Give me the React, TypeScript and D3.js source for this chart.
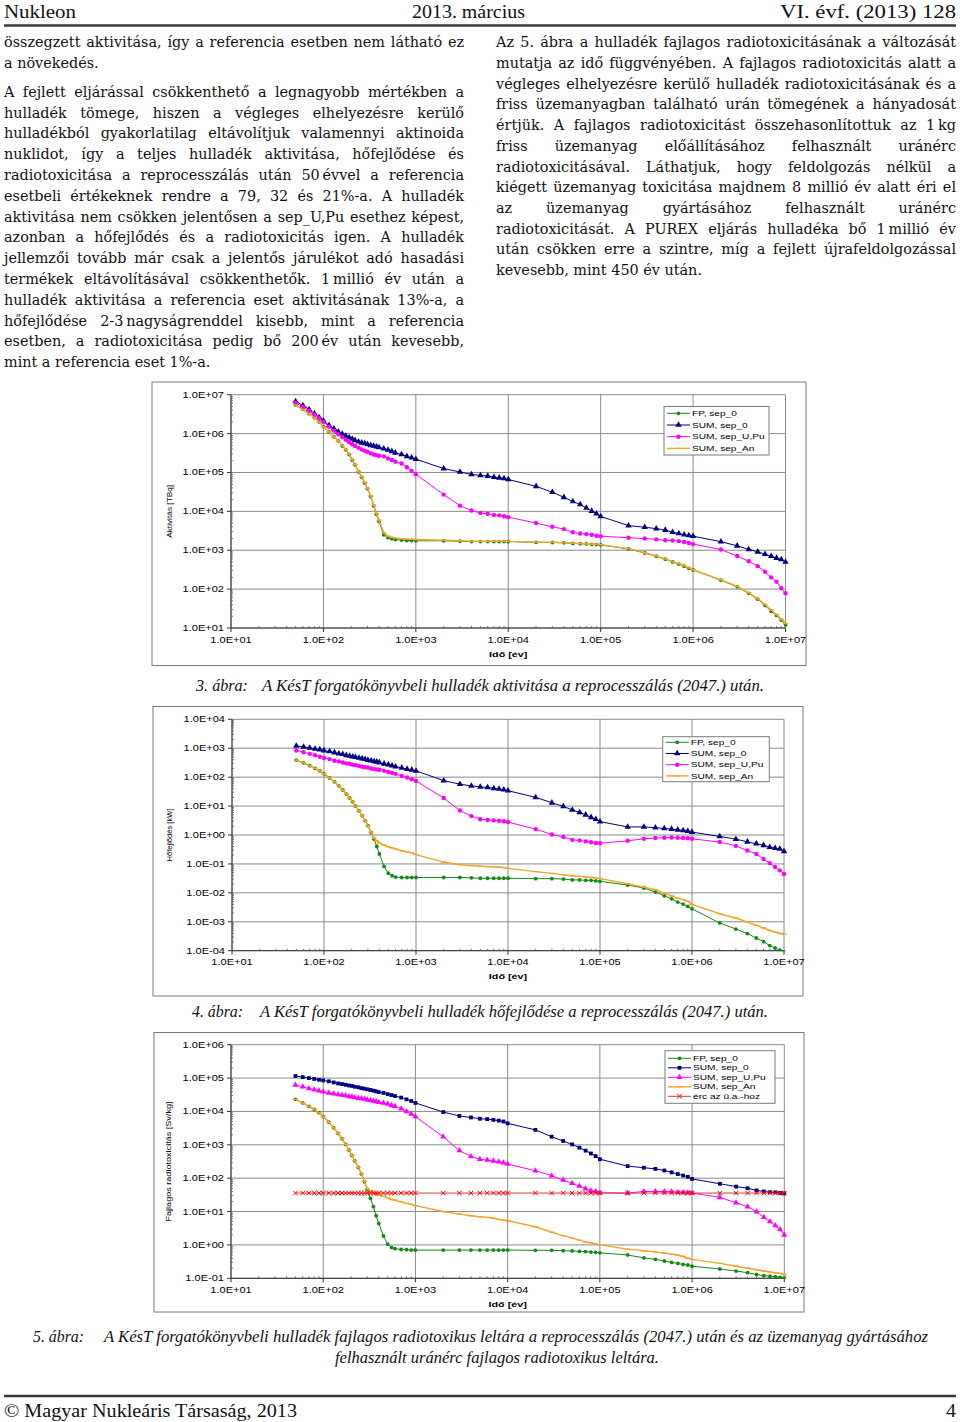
import React, { useLayoutEffect, useRef } from "react";
import * as d3 from "d3";

// ---------------- DATA ----------------
const TIMES = [
  50, 60, 70, 80, 90, 100, 115, 130, 145, 160,
  175, 190, 205, 220, 240, 260, 280, 300, 325, 350,
  375, 400, 450, 500, 550, 600, 700, 800, 900, 1000,
  2000, 3000, 4000, 5000, 6000, 7000, 8000, 9000,
  1e4, 2e4, 3e4, 4e4, 5e4, 6e4, 7e4, 8e4, 9e4,
  1e5, 2e5, 3e5, 4e5, 5e5, 6e5, 7e5, 8e5, 9e5,
  1e6, 2e6, 3e6, 4e6, 5e6, 6e6, 7e6, 8e6, 9e6,
  1e7,
];

const X_TICK_LABELS = ["1.0E+01", "1.0E+02", "1.0E+03", "1.0E+04", "1.0E+05", "1.0E+06", "1.0E+07"];
const ACT_Y_LABELS = ["1.0E+01", "1.0E+02", "1.0E+03", "1.0E+04", "1.0E+05", "1.0E+06", "1.0E+07"];
const HEAT_Y_LABELS = ["1.0E-04", "1.0E-03", "1.0E-02", "1.0E-01", "1.0E+00", "1.0E+01", "1.0E+02", "1.0E+03", "1.0E+04"];
const TOX_Y_LABELS = ["1.0E-01", "1.0E+00", "1.0E+01", "1.0E+02", "1.0E+03", "1.0E+04", "1.0E+05", "1.0E+06"];

const SERIES_NAMES = ["FP, sep_0", "SUM, sep_0", "SUM, sep_U,Pu", "SUM, sep_An", "érc az ü.a.-hoz"];

// 3. ábra – Aktivitás [TBq]
const ACT_FP = [
  5.5e6, 4.2e6, 3.25e6, 2.57e6, 1.99e6, 1.51e6, 1.1e6, 8.3e5, 6.5e5, 4.8e5,
  3.8e5, 2.9e5, 2.06e5, 1.56e5, 1.03e5, 7.5e4, 5.3e4, 3.8e4, 2.4e4, 1.38e4,
  8.4e3, 5.5e3, 2.5e3, 2.1e3, 1.96e3, 1.89e3, 1.82e3, 1.78e3, 1.78e3, 1.75e3,
  1.75e3, 1.7e3, 1.67e3, 1.67e3, 1.67e3, 1.67e3, 1.67e3, 1.67e3,
  1.67e3, 1.6e3, 1.58e3, 1.55e3, 1.5e3, 1.47e3, 1.45e3, 1.42e3, 1.4e3,
  1.37e3, 1.08e3, 850, 700, 590, 500, 440, 390, 340,
  310, 170, 115, 78, 55, 38, 27, 21, 16,
  12,
];
const ACT_SUM0 = [
  6.7e6, 5.3e6, 4.2e6, 3.3e6, 2.6e6, 2.15e6, 1.63e6, 1.34e6, 1.12e6, 9.8e5,
  8.7e5, 7.9e5, 7.3e5, 6.7e5, 6.2e5, 5.8e5, 5.6e5, 5.3e5, 5e5, 4.8e5,
  4.6e5, 4.4e5, 4.1e5, 3.8e5, 3.5e5, 3.2e5, 2.9e5, 2.6e5, 2.4e5, 2.2e5,
  1.26e5, 1.03e5, 8.9e4, 8.4e4, 8.1e4, 7.6e4, 7.3e4, 7e4,
  6.6e4, 4.4e4, 3.1e4, 2.3e4, 1.8e4, 1.5e4, 1.22e4, 1.02e4, 8.7e3,
  7.4e3, 4.3e3, 3.9e3, 3.6e3, 3.3e3, 2.9e3, 2.7e3, 2.5e3, 2.4e3,
  2.3e3, 1.66e3, 1.3e3, 1.05e3, 910, 790, 700, 630, 580,
  500,
];
const ACT_UPU = [
  6.2e6, 4.9e6, 3.9e6, 3.1e6, 2.5e6, 2.0e6, 1.5e6, 1.19e6, 9.6e5, 8e5,
  6.9e5, 6e5, 5.3e5, 4.8e5, 4.3e5, 3.9e5, 3.6e5, 3.4e5, 3.1e5, 2.9e5,
  2.8e5, 2.7e5, 2.6e5, 2.3e5, 2.1e5, 1.9e5, 1.7e5, 1.36e5, 1.1e5, 9e4,
  2.7e4, 1.4e4, 1.05e4, 9.1e3, 8.6e3, 8.1e3, 7.9e3, 7.5e3,
  7.1e3, 5e3, 4e3, 3.5e3, 2.9e3, 2.7e3, 2.6e3, 2.5e3, 2.35e3,
  2.3e3, 2.1e3, 2e3, 1.9e3, 1.8e3, 1.78e3, 1.72e3, 1.63e3, 1.53e3,
  1.44e3, 1.04e3, 710, 520, 390, 280, 200, 155, 105,
  78,
];
const ACT_AN = [
  5.4e6, 4.15e6, 3.2e6, 2.55e6, 1.98e6, 1.5e6, 1.1e6, 8.3e5, 6.5e5, 4.9e5,
  3.85e5, 2.95e5, 2.1e5, 1.6e5, 1.06e5, 7.7e4, 5.5e4, 3.9e4, 2.5e4, 1.45e4,
  8.9e3, 5.9e3, 2.8e3, 2.3e3, 2.15e3, 2.05e3, 1.98e3, 1.93e3, 1.9e3, 1.88e3,
  1.8e3, 1.75e3, 1.72e3, 1.7e3, 1.7e3, 1.7e3, 1.7e3, 1.7e3,
  1.69e3, 1.62e3, 1.6e3, 1.57e3, 1.52e3, 1.49e3, 1.47e3, 1.44e3, 1.42e3,
  1.39e3, 1.1e3, 860, 710, 600, 510, 450, 400, 350,
  315, 172, 117, 80, 57, 40, 29, 22, 17,
  13,
];

// 4. ábra – Hőfejlődés [kW]
const HEAT_FP = [
  390, 310, 250, 200, 165, 130, 94, 69, 50, 36,
  26, 19, 14, 10, 6.8, 4.6, 3.1, 2.1, 1.22, 0.72,
  0.4, 0.22, 0.082, 0.048, 0.039, 0.035, 0.034, 0.034, 0.034, 0.034,
  0.034, 0.034, 0.033, 0.032, 0.032, 0.032, 0.032, 0.032,
  0.032, 0.031, 0.031, 0.03, 0.028, 0.028, 0.027, 0.027, 0.026,
  0.025, 0.0186, 0.0147, 0.0107, 0.0079, 0.0062, 0.0048, 0.0041, 0.0034,
  0.0028, 9.1e-4, 5.6e-4, 3.9e-4, 2.75e-4, 2.05e-4, 1.5e-4, 1.24e-4, 1.05e-4,
  9e-5,
];
const HEAT_SUM0 = [
  1200, 1110, 1020, 950, 900, 830, 770, 710, 650, 620,
  570, 540, 510, 490, 460, 440, 420, 390, 370, 350,
  340, 320, 290, 270, 250, 230, 210, 190, 180, 165,
  76, 57, 50, 46, 44, 41, 39, 37,
  34, 20, 13, 9.7, 7.4, 6, 5, 4.1, 3.5,
  2.9, 1.9, 1.9, 1.8, 1.68, 1.6, 1.51, 1.44, 1.36,
  1.26, 0.89, 0.72, 0.58, 0.5, 0.44, 0.38, 0.35, 0.33,
  0.27,
];
const HEAT_UPU = [
  830, 730, 640, 570, 510, 460, 420, 370, 350, 320,
  300, 290, 270, 260, 245, 230, 220, 215, 200, 190,
  185, 180, 165, 150, 140, 130, 110, 97, 85, 74,
  19, 7, 4.5, 3.5, 3.3, 3.2, 3.1, 3.0,
  2.8, 1.6, 1.04, 0.85, 0.68, 0.65, 0.6, 0.56, 0.53,
  0.52, 0.63, 0.74, 0.79, 0.8, 0.82, 0.8, 0.79, 0.77,
  0.74, 0.57, 0.42, 0.29, 0.22, 0.147, 0.107, 0.078, 0.06,
  0.045,
];
const HEAT_AN = [
  390, 310, 250, 200, 165, 130, 94, 69, 50, 36,
  26, 19, 14, 10, 6.8, 4.6, 3.1, 2.1, 1.25, 0.78,
  0.62, 0.52, 0.45, 0.39, 0.36, 0.33, 0.285, 0.26, 0.24, 0.21,
  0.116, 0.094, 0.087, 0.083, 0.081, 0.079, 0.077, 0.075,
  0.07, 0.054, 0.047, 0.042, 0.039, 0.037, 0.035, 0.034, 0.033,
  0.031, 0.0207, 0.0158, 0.0128, 0.0098, 0.0078, 0.0066, 0.0058, 0.0051,
  0.004, 0.0019, 0.00135, 9.8e-4, 7.5e-4, 6.1e-4, 5e-4, 4.4e-4, 4e-4,
  3.7e-4,
];

// 5. ábra – Fajlagos radiotoxicitás [Sv/kg]
const TOX_FP = [
  2.3e4, 1.8e4, 1.42e4, 1.15e4, 9.2e3, 7e3, 4.8e3, 3.25e3, 2.2e3, 1.52e3,
  1.03e3, 700, 480, 330, 210, 133, 78, 46, 25, 14,
  7.5, 4.4, 1.85, 1.06, 0.84, 0.77, 0.73, 0.72, 0.7, 0.7,
  0.7, 0.7, 0.7, 0.7, 0.7, 0.7, 0.7, 0.7,
  0.7, 0.69, 0.69, 0.67, 0.66, 0.64, 0.63, 0.61, 0.6,
  0.58, 0.5, 0.41, 0.37, 0.33, 0.3, 0.28, 0.26, 0.25,
  0.23, 0.19, 0.165, 0.147, 0.13, 0.12, 0.115, 0.112, 0.107,
  0.102,
];
const TOX_SUM0 = [
  1.15e5, 1.07e5, 1e5, 9.4e4, 8.9e4, 8.5e4, 8e4, 7.4e4, 6.9e4, 6.6e4,
  6.3e4, 6e4, 5.8e4, 5.5e4, 5.3e4, 5e4, 4.8e4, 4.6e4, 4.4e4, 4.2e4,
  4e4, 3.8e4, 3.6e4, 3.3e4, 3.1e4, 2.9e4, 2.6e4, 2.3e4, 2.05e4, 1.8e4,
  9.6e3, 7.3e3, 6.6e3, 6.05e3, 5.9e3, 5.6e3, 5.3e3, 5e3,
  4.4e3, 2.8e3, 1.75e3, 1.3e3, 1.03e3, 820, 670, 550, 460,
  370, 230, 206, 190, 170, 150, 133, 120, 110,
  95, 68, 56, 50, 43, 40, 38, 37.5, 36,
  35,
];
const TOX_UPU = [
  6.2e4, 5.5e4, 4.9e4, 4.5e4, 4.2e4, 3.9e4, 3.6e4, 3.4e4, 3.2e4, 3.1e4,
  3e4, 2.8e4, 2.76e4, 2.6e4, 2.5e4, 2.46e4, 2.35e4, 2.25e4, 2.15e4, 2.05e4,
  2e4, 1.9e4, 1.8e4, 1.67e4, 1.52e4, 1.42e4, 1.2e4, 1e4, 8.4e3, 7e3,
  1.75e3, 670, 450, 370, 350, 330, 310, 290,
  265, 167, 119, 88, 70, 58, 48, 42, 40,
  36.6, 35.8, 40, 40, 40, 39, 38, 37.5, 36.6,
  35.8, 26.6, 18.4, 14, 9.9, 6.7, 5, 3.85, 2.9,
  2.0,
];
const TOX_AN = [
  2.3e4, 1.8e4, 1.42e4, 1.15e4, 9.2e3, 7e3, 4.8e3, 3.25e3, 2.2e3, 1.52e3,
  1.03e3, 700, 480, 330, 210, 135, 80, 48, 42, 37,
  33, 31, 28.5, 26, 23, 22, 19.5, 17.6, 16.5, 15,
  10, 8.4, 7.5, 7.0, 6.7, 6.3, 5.8, 5.5,
  5.3, 3.5, 2.4, 1.9, 1.6, 1.4, 1.24, 1.15, 1.07,
  1.0, 0.75, 0.67, 0.62, 0.57, 0.53, 0.49, 0.45, 0.4,
  0.37, 0.28, 0.23, 0.2, 0.18, 0.165, 0.155, 0.145, 0.14,
  0.13,
];
const TOX_ORE = [
  35.8, 35.8, 35.8, 35.8, 35.8, 35.8, 35.8, 35.8, 35.8, 35.8,
  35.8, 35.8, 35.8, 35.8, 35.8, 35.8, 35.8, 35.8, 35.8, 35.8,
  35.8, 35.8, 35.8, 35.8, 35.8, 35.8, 35.8, 35.8, 35.8, 35.8,
  35.8, 35.8, 35.8, 35.8, 35.8, 35.8, 35.8, 35.8,
  35.8, 35.8, 35.8, 35.8, 35.8, 35.8, 35.8, 35.8, 35.8,
  35.8, 35.8, 35.8, 35.8, 35.8, 35.8, 35.8, 35.8, 35.8,
  35.8, 35.8, 35.8, 35.8, 35.8, 35.8, 35.8, 35.8, 35.8,
  35.8,
];

// ---------------- TEXT ----------------
const LEFT_P1 = [
  "összegzett aktivitása, így a referencia esetben nem látható ez",
  "a növekedés.",
];
const LEFT_P2 = [
  "A fejlett eljárással csökkenthető a legnagyobb mértékben a",
  "hulladék tömege, hiszen a végleges elhelyezésre kerülő",
  "hulladékból gyakorlatilag eltávolítjuk valamennyi aktinoida",
  "nuklidot, így a teljes hulladék aktivitása, hőfejlődése és",
  "radiotoxicitása a reprocesszálás után 50\u2009évvel a referencia",
  "esetbeli értékeknek rendre a 79, 32 és 21%-a. A hulladék",
  "aktivitása nem csökken jelentősen a sep_U,Pu esethez képest,",
  "azonban a hőfejlődés és a radiotoxicitás igen. A hulladék",
  "jellemzői tovább már csak a jelentős járulékot adó hasadási",
  "termékek eltávolításával csökkenthetők. 1\u2009millió év után a",
  "hulladék aktivitása a referencia eset aktivitásának 13%-a, a",
  "hőfejlődése 2-3\u2009nagyságrenddel kisebb, mint a referencia",
  "esetben, a radiotoxicitása pedig bő 200\u2009év után kevesebb,",
  "mint a referencia eset 1%-a.",
];
const RIGHT_P = [
  "Az 5. ábra a hulladék fajlagos radiotoxicitásának a változását",
  "mutatja az idő függvényében. A fajlagos radiotoxicitás alatt a",
  "végleges elhelyezésre kerülő hulladék radiotoxicitásának és a",
  "friss üzemanyagban található urán tömegének a hányadosát",
  "értjük. A fajlagos radiotoxicitást összehasonlítottuk az 1\u2009kg",
  "friss üzemanyag előállításához felhasznált uránérc",
  "radiotoxicitásával. Láthatjuk, hogy feldolgozás nélkül a",
  "kiégett üzemanyag toxicitása majdnem 8 millió év alatt éri el",
  "az üzemanyag gyártásához felhasznált uránérc",
  "radiotoxicitását. A PUREX eljárás hulladéka bő 1\u2009millió év",
  "után csökken erre a szintre, míg a fejlett újrafeldolgozással",
  "kevesebb, mint 450 év után.",
];

const SERIF = "'DejaVu Serif', 'Liberation Serif', serif";
const TIMESF = "'Liberation Serif', 'Times New Roman', serif";
const SANS = "'Liberation Sans', Arial, sans-serif";

// justified line of body text
function JLine({ x, y, w, text, justify }: { x: number; y: number; w: number; text: string; justify: boolean }) {
  const ref = useRef<SVGTextElement>(null);
  useLayoutEffect(() => {
    const el = ref.current;
    if (!el) return;
    el.style.wordSpacing = "0px";
    el.removeAttribute("textLength");
    const len = el.getComputedTextLength();
    const spaces = (text.match(/ /g) || []).length;
    if (justify && spaces > 0) {
      el.style.wordSpacing = `${(w - len) / spaces}px`;
    } else if (len > w) {
      el.setAttribute("textLength", String(w));
      el.setAttribute("lengthAdjust", "spacingAndGlyphs");
    }
  }, [text, w, justify]);
  return (
    <text ref={ref} x={x} y={y} fontFamily={SERIF} fontSize={14.4} fill="#111" style={{ whiteSpace: "pre" }}>
      {text}
    </text>
  );
}

// fitted text (fixed width)
function FText({ x, y, w, text, size, italic, anchor }: { x: number; y: number; w: number; text: string; size: number; italic?: boolean; anchor?: string }) {
  return (
    <text x={x} y={y} fontFamily={TIMESF} fontSize={size} fontStyle={italic ? "italic" : "normal"} textLength={w}
      lengthAdjust="spacingAndGlyphs" textAnchor={anchor || "start"} fill="#111">
      {text}
    </text>
  );
}

// scaled sans text (chart labels)
function ST({ x, y, children, sx = 1.3, size = 8.5, anchor = "start", weight = "normal" }: any) {
  return (
    <text transform={`translate(${x},${y}) scale(${sx},1)`} textAnchor={anchor} fontSize={size} fontWeight={weight}
      fontFamily={SANS} fill="#000">
      {children}
    </text>
  );
}

type MarkerKind = "circle" | "triangle" | "square" | "dash" | "x";
interface SeriesCfg { name: string; values: number[]; line: string; lw: number; marker: MarkerKind; mcolor: string; msize: number; }
interface ChartCfg {
  id: string;
  frame: [number, number, number, number];
  plot: { l: number; r: number; t: number; b: number };
  yLabels: string[];
  yTitle: string;
  yTitleX: number;
  yTitleLen: number;
  series: SeriesCfg[];
  legend: { x: number; y: number; w: number; h: number; row0: number; dy: number };
}

function markerEl(kind: MarkerKind, cx: number, cy: number, color: string, size: number, key: string) {
  switch (kind) {
    case "circle":
      return <circle key={key} cx={cx} cy={cy} r={size} fill={color} />;
    case "triangle":
      return <path key={key} d={d3.symbol(d3.symbolTriangle, size)() as string} transform={`translate(${cx},${cy})`} fill={color} />;
    case "square":
      return <rect key={key} x={cx - size / 2} y={cy - size / 2} width={size} height={size} fill={color} />;
    case "dash":
      return <line key={key} x1={cx - 2.6} x2={cx + 2.6} y1={cy} y2={cy} stroke={color} strokeWidth={1.3} />;
    case "x":
      return (
        <path key={key} d={`M${cx - 2.3},${cy - 2.3}L${cx + 2.3},${cy + 2.3}M${cx - 2.3},${cy + 2.3}L${cx + 2.3},${cy - 2.3}`}
          stroke={color} strokeWidth={1} fill="none" />
      );
  }
}

function Chart({ cfg }: { cfg: ChartCfg }) {
  const { frame, plot, yLabels, series, legend } = cfg;
  const xTicks = X_TICK_LABELS.map(Number);
  const yTicks = yLabels.map(Number);
  const x = d3.scaleLog().domain([xTicks[0], xTicks[xTicks.length - 1]]).range([plot.l, plot.r]);
  const y = d3.scaleLog().domain([yTicks[0], yTicks[yTicks.length - 1]]).range([plot.b, plot.t]);
  const minor = (ticks: number[]) => {
    const out: number[] = [];
    for (let i = 0; i < ticks.length - 1; i++) for (let k = 2; k <= 9; k++) out.push(ticks[i] * k);
    return out;
  };
  const line = d3.line<number>().x((_, i) => x(TIMES[i])).y((v) => y(v));
  const grid = "#8a8a8a";
  const clipId = `clip-${cfg.id}`;
  return (
    <g>
      <rect x={frame[0]} y={frame[1]} width={frame[2] - frame[0]} height={frame[3] - frame[1]} fill="#fff" stroke="#7a7a7a" strokeWidth={1} />
      <defs>
        <clipPath id={clipId}>
          <rect x={plot.l - 6} y={plot.t - 6} width={plot.r - plot.l + 12} height={plot.b - plot.t + 6.5} />
        </clipPath>
      </defs>
      {yTicks.map((v, i) => (
        <line key={`gy${i}`} x1={plot.l} x2={plot.r} y1={y(v)} y2={y(v)} stroke={grid} strokeWidth={1} />
      ))}
      {xTicks.map((v, i) => (
        <line key={`gx${i}`} x1={x(v)} x2={x(v)} y1={plot.t} y2={plot.b} stroke={grid} strokeWidth={1} />
      ))}
      <line x1={plot.l} x2={plot.l} y1={plot.t} y2={plot.b} stroke="#333" strokeWidth={1} />
      <line x1={plot.l} x2={plot.r} y1={plot.b} y2={plot.b} stroke="#333" strokeWidth={1} />
      {yTicks.map((v, i) => (
        <line key={`ty${i}`} x1={plot.l - 4} x2={plot.l} y1={y(v)} y2={y(v)} stroke="#333" />
      ))}
      {xTicks.map((v, i) => (
        <line key={`tx${i}`} x1={x(v)} x2={x(v)} y1={plot.b} y2={plot.b + 4} stroke="#333" />
      ))}
      {minor(yTicks).map((v, i) => (
        <line key={`my${i}`} x1={plot.l} x2={plot.l + 2} y1={y(v)} y2={y(v)} stroke="#555" strokeWidth={0.8} />
      ))}
      {minor(xTicks).map((v, i) => (
        <line key={`mx${i}`} x1={x(v)} x2={x(v)} y1={plot.b} y2={plot.b - 2} stroke="#555" strokeWidth={0.8} />
      ))}
      {yLabels.map((lab, i) => (
        <ST key={`ly${i}`} x={plot.l - 7} y={y(yTicks[i]) + 3} anchor="end">{lab}</ST>
      ))}
      {X_TICK_LABELS.map((lab, i) => (
        <ST key={`lx${i}`} x={x(xTicks[i])} y={plot.b + 14.5} anchor="middle">{lab}</ST>
      ))}
      <ST x={(plot.l + plot.r) / 2} y={plot.b + 28.5} anchor="middle" weight="bold" sx={1.35} size={8}>Idő [év]</ST>
      <text transform={`translate(${cfg.yTitleX},${(plot.t + plot.b) / 2}) rotate(-90)`} textAnchor="middle"
        fontFamily={SANS} fontSize={7.5} textLength={cfg.yTitleLen} lengthAdjust="spacingAndGlyphs" fill="#000">
        {cfg.yTitle}
      </text>
      <g clipPath={`url(#${clipId})`}>
        {series.map((s, si) => (
          <g key={`s${si}`}>
            <path d={line(s.values) as string} fill="none" stroke={s.line} strokeWidth={s.lw} />
            {s.values.map((v, i) => markerEl(s.marker, x(TIMES[i]), y(v), s.mcolor, s.msize, `m${si}-${i}`))}
          </g>
        ))}
      </g>
      <rect x={legend.x} y={legend.y} width={legend.w} height={legend.h} fill="#fff" stroke="#7a7a7a" strokeWidth={1} />
      {series.map((s, si) => {
        const ry = legend.row0 + si * legend.dy;
        const x0 = legend.x + 3, x1 = legend.x + 26;
        return (
          <g key={`lg${si}`}>
            <line x1={x0} x2={x1} y1={ry} y2={ry} stroke={s.line} strokeWidth={s.lw} />
            {markerEl(s.marker, (x0 + x1) / 2, ry, s.mcolor, s.msize, `lm${si}`)}
            <ST x={legend.x + 28} y={ry + 2.6} size={7} sx={1.45}>{s.name}</ST>
          </g>
        );
      })}
    </g>
  );
}

const GREEN = "#138a13";
const NAVY = "#000080";
const MAGENTA = "#ff00ff";
const ORANGE = "#f4a428";

const CHART_ACT: ChartCfg = {
  id: "act",
  frame: [152, 382, 806, 665.5],
  plot: { l: 231, r: 785.5, t: 394.7, b: 628 },
  yLabels: ACT_Y_LABELS,
  yTitle: "Aktivitás [TBq]",
  yTitleX: 172,
  yTitleLen: 53,
  series: [
    { name: SERIES_NAMES[0], values: ACT_FP, line: GREEN, lw: 1, marker: "circle", mcolor: GREEN, msize: 1.9 },
    { name: SERIES_NAMES[1], values: ACT_SUM0, line: NAVY, lw: 1, marker: "triangle", mcolor: NAVY, msize: 18 },
    { name: SERIES_NAMES[2], values: ACT_UPU, line: MAGENTA, lw: 1, marker: "circle", mcolor: MAGENTA, msize: 2.2 },
    { name: SERIES_NAMES[3], values: ACT_AN, line: ORANGE, lw: 1.4, marker: "dash", mcolor: ORANGE, msize: 1 },
  ],
  legend: { x: 664, y: 406.5, w: 105, h: 48.5, row0: 413.3, dy: 11.7 },
};

const CHART_HEAT: ChartCfg = {
  id: "heat",
  frame: [153, 706.5, 803, 996],
  plot: { l: 232, r: 784, t: 719.3, b: 950.7 },
  yLabels: HEAT_Y_LABELS,
  yTitle: "Hőfejlődés [kW]",
  yTitleX: 172,
  yTitleLen: 53,
  series: [
    { name: SERIES_NAMES[0], values: HEAT_FP, line: GREEN, lw: 1, marker: "circle", mcolor: GREEN, msize: 1.9 },
    { name: SERIES_NAMES[1], values: HEAT_SUM0, line: NAVY, lw: 1, marker: "triangle", mcolor: NAVY, msize: 18 },
    { name: SERIES_NAMES[2], values: HEAT_UPU, line: MAGENTA, lw: 1, marker: "circle", mcolor: MAGENTA, msize: 2.2 },
    { name: SERIES_NAMES[3], values: HEAT_AN, line: ORANGE, lw: 1.4, marker: "dash", mcolor: ORANGE, msize: 1 },
  ],
  legend: { x: 662.7, y: 736.7, w: 106.6, h: 45, row0: 742.3, dy: 11.2 },
};

const CHART_TOX: ChartCfg = {
  id: "tox",
  frame: [154, 1032.5, 804, 1312],
  plot: { l: 231, r: 784.3, t: 1044.7, b: 1278.3 },
  yLabels: TOX_Y_LABELS,
  yTitle: "Fajlagos radiotoxicitás [Sv/kg]",
  yTitleX: 171,
  yTitleLen: 120,
  series: [
    { name: SERIES_NAMES[0], values: TOX_FP, line: GREEN, lw: 1, marker: "circle", mcolor: GREEN, msize: 1.9 },
    { name: SERIES_NAMES[1], values: TOX_SUM0, line: NAVY, lw: 1, marker: "square", mcolor: NAVY, msize: 3.8 },
    { name: SERIES_NAMES[2], values: TOX_UPU, line: MAGENTA, lw: 1, marker: "triangle", mcolor: MAGENTA, msize: 16 },
    { name: SERIES_NAMES[3], values: TOX_AN, line: ORANGE, lw: 1.4, marker: "dash", mcolor: ORANGE, msize: 1 },
    { name: SERIES_NAMES[4], values: TOX_ORE, line: "#d23a3a", lw: 1, marker: "x", mcolor: "#ff0000", msize: 1 },
  ],
  legend: { x: 665, y: 1050.7, w: 110, h: 52.6, row0: 1058.3, dy: 9.5 },
};

export default function App() {
  const LH = 20.8;
  return (
    <svg width={960} height={1422} viewBox="0 0 960 1422" xmlns="http://www.w3.org/2000/svg"
      style={{ position: "absolute", left: 0, top: 0, background: "#fff" }}>
      <rect x={0} y={0} width={960} height={1422} fill="#fff" />
      <FText x={4} y={17.5} w={72} text="Nukleon" size={19} />
      <FText x={412} y={17.5} w={113} text="2013. március" size={19} />
      <FText x={780} y={17.5} w={176} text="VI. évf. (2013) 128" size={19} />
      <line x1={4} x2={956} y1={25.5} y2={25.5} stroke="#3a3a3a" strokeWidth={2.4} />

      {LEFT_P1.map((t, i) => (
        <JLine key={`a${i}`} x={4} y={47.3 + i * LH} w={460} text={t} justify={i < LEFT_P1.length - 1} />
      ))}
      {LEFT_P2.map((t, i) => (
        <JLine key={`b${i}`} x={4} y={96.7 + i * LH} w={460} text={t} justify={i < LEFT_P2.length - 1} />
      ))}
      {RIGHT_P.map((t, i) => (
        <JLine key={`c${i}`} x={496} y={47.3 + i * 20.7} w={460} text={t} justify={i < RIGHT_P.length - 1} />
      ))}

      <Chart cfg={CHART_ACT} />
      <FText x={196} y={691} w={52} text="3. ábra:" size={16} italic />
      <FText x={262} y={691} w={502} text="A KésT forgatókönyvbeli hulladék aktivitása a reprocesszálás (2047.) után." size={16} italic />

      <Chart cfg={CHART_HEAT} />
      <FText x={192} y={1017} w={51} text="4. ábra:" size={16} italic />
      <FText x={260} y={1017} w={508} text="A KésT forgatókönyvbeli hulladék hőfejlődése a reprocesszálás (2047.) után." size={16} italic />

      <Chart cfg={CHART_TOX} />
      <FText x={33} y={1342} w={51} text="5. ábra:" size={16} italic />
      <FText x={104} y={1342} w={824} text="A KésT forgatókönyvbeli hulladék fajlagos radiotoxikus leltára a reprocesszálás (2047.) után és az üzemanyag gyártásához" size={16} italic />
      <FText x={335} y={1363} w={324} text="felhasznált uránérc fajlagos radiotoxikus leltára." size={16} italic />

      <line x1={4} x2={956} y1={1396} y2={1396} stroke="#3a3a3a" strokeWidth={2.4} />
      <FText x={4} y={1417} w={293} text="© Magyar Nukleáris Társaság, 2013" size={19} />
      <FText x={946} y={1417} w={10} text="4" size={19} />
    </svg>
  );
}
